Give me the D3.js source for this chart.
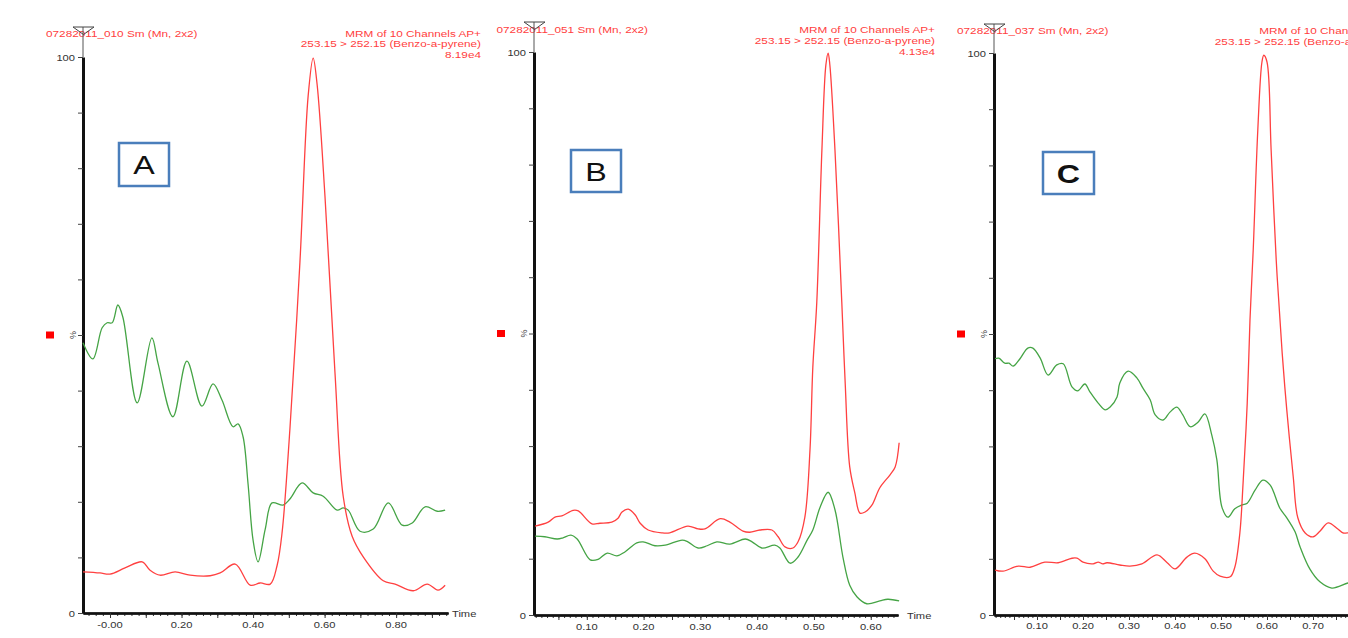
<!DOCTYPE html>
<html>
<head>
<meta charset="utf-8">
<script src="https://cdn.jsdelivr.net/npm/d3@7"></script>
<style>
  body { margin: 0; background: #fff; }
  svg { display: block; }
  text { font-family: "Liberation Sans", Arial, sans-serif; }
</style>
</head>
<body>
<svg id="chart" width="1348" height="638"></svg>
<script>
// ---- data (time in min, intensity in %) ----
const panelLetters = ["A", "B", "C"];
const fileLabels = ["07282011_010 Sm (Mn, 2x2)", "07282011_051 Sm (Mn, 2x2)", "07282011_037 Sm (Mn, 2x2)"];
const channelLabel = "MRM of 10 Channels AP+";
const transitionLabel = "253.15 > 252.15 (Benzo-a-pyrene)";
const maxIntensity = ["8.19e4", "4.13e4", null]; // third one is cut off in the picture

const xTickValsA = [0, 0.2, 0.4, 0.6, 0.8];
const xTickLabelsA = ["-0.00", "0.20", "0.40", "0.60", "0.80"];
const xTickValsB = [0.1, 0.2, 0.3, 0.4, 0.5, 0.6];
const xTickLabelsB = ["0.10", "0.20", "0.30", "0.40", "0.50", "0.60"];
const xTickValsC = [0.1, 0.2, 0.3, 0.4, 0.5, 0.6, 0.7, 0.8];
const xTickLabelsC = ["0.10", "0.20", "0.30", "0.40", "0.50", "0.60", "0.70", "0.80"];
const yTickVals = [0, 10, 20, 30, 40, 50, 60, 70, 80, 90, 100];
const yTickLabels = ["0", "100"];

const redA = [[-0.0755,7.4],[-0.028,7.2],[0.0,7.0],[0.042,8.1],[0.09,9.2],[0.112,7.7],[0.14,6.8],[0.182,7.4],
  [0.224,6.8],[0.28,6.7],[0.308,7.2],[0.35,8.8],[0.392,5.0],[0.42,5.4],[0.448,5.2],[0.467,8.5],[0.481,14.4],
  [0.503,33.1],[0.531,63.1],[0.554,93.0],[0.568,99.8],[0.579,95.1],[0.601,75.0],[0.629,43.2],[0.652,21.0],
  [0.677,13.8],[0.708,10.1],[0.764,5.8],[0.797,5.2],[0.848,4.0],[0.887,5.2],[0.917,4.1],[0.937,5.0]];
const greenA = [[-0.0755,48.6],[-0.048,45.7],[-0.022,51.3],[-0.008,52.2],[0.006,52.2],[0.022,55.4],[0.036,53.2],
  [0.076,37.8],[0.117,49.5],[0.134,45.0],[0.176,35.3],[0.215,45.3],[0.257,37.2],[0.288,41.2],[0.313,38.3],
  [0.344,33.5],[0.358,34.0],[0.372,31.7],[0.386,23.2],[0.4,13.1],[0.414,9.2],[0.434,15.1],[0.453,19.8],
  [0.484,19.4],[0.503,20.5],[0.537,23.4],[0.568,21.6],[0.596,21.0],[0.635,18.5],[0.652,18.9],[0.666,18.5],
  [0.699,14.7],[0.736,15.1],[0.778,19.8],[0.817,15.8],[0.845,16.2],[0.881,19.1],[0.915,18.3],[0.937,18.5]];

const redB = [[0.009,15.8],[0.032,16.5],[0.044,17.4],[0.056,17.6],[0.076,18.6],[0.085,18.5],[0.109,16.2],
  [0.123,16.3],[0.144,16.5],[0.155,17.2],[0.162,18.3],[0.173,18.8],[0.185,17.8],[0.194,16.3],[0.208,15.1],
  [0.232,14.6],[0.246,14.6],[0.278,15.8],[0.296,15.3],[0.308,15.3],[0.335,17.1],[0.352,16.5],[0.375,14.9],
  [0.387,14.7],[0.405,15.1],[0.426,15.1],[0.437,13.9],[0.449,12.1],[0.463,11.9],[0.472,13.0],[0.484,17.4],
  [0.493,29.3],[0.498,44.0],[0.505,55.6],[0.514,82.6],[0.521,97.7],[0.525,99.8],[0.528,97.7],[0.537,82.6],
  [0.549,55.6],[0.555,41.2],[0.563,26.3],[0.572,21.7],[0.581,18.1],[0.59,18.3],[0.602,19.5],[0.616,22.6],
  [0.634,24.9],[0.643,26.3],[0.65,30.6]];
const greenB = [[0.009,14.0],[0.026,13.9],[0.048,13.5],[0.058,13.7],[0.072,14.2],[0.083,13.5],[0.106,9.8],
  [0.12,9.9],[0.136,11.0],[0.153,10.5],[0.167,11.2],[0.188,12.8],[0.199,13.0],[0.22,12.3],[0.238,12.4],
  [0.268,13.3],[0.278,13.0],[0.296,11.9],[0.312,12.3],[0.329,13.0],[0.352,12.6],[0.379,13.5],[0.391,13.0],
  [0.408,11.9],[0.431,12.4],[0.44,11.9],[0.458,9.2],[0.472,10.3],[0.488,13.3],[0.498,15.1],[0.511,19.2],
  [0.525,21.8],[0.537,18.7],[0.551,10.3],[0.563,5.3],[0.576,3.2],[0.593,2.0],[0.616,2.5],[0.63,2.8],[0.65,2.5]];

const redC = [[0.009,8.0],[0.026,7.8],[0.059,8.7],[0.085,8.5],[0.117,9.4],[0.146,9.3],[0.176,10.1],[0.187,10.1],
  [0.2,9.4],[0.222,9.1],[0.233,9.4],[0.243,9.1],[0.252,9.3],[0.28,8.9],[0.302,8.7],[0.328,9.1],[0.361,10.7],
  [0.383,9.3],[0.4,8.2],[0.426,10.3],[0.443,11.0],[0.465,10.0],[0.483,7.8],[0.498,6.9],[0.52,6.8],[0.53,8.5],
  [0.541,14.6],[0.548,23.5],[0.557,37.7],[0.563,52.5],[0.57,64.9],[0.58,86.3],[0.589,98.4],[0.593,99.6],
  [0.6,98.4],[0.609,82.7],[0.62,63.2],[0.633,46.6],[0.643,36.5],[0.657,24.6],[0.667,17.3],[0.683,14.6],
  [0.7,13.9],[0.715,14.9],[0.733,16.4],[0.754,15.3],[0.765,14.6],[0.776,14.6],[0.802,14.2]];
const greenC = [[0.009,45.6],[0.017,45.7],[0.03,44.8],[0.039,44.8],[0.048,44.3],[0.063,45.6],[0.08,47.5],
  [0.091,47.5],[0.107,45.7],[0.124,42.7],[0.143,44.5],[0.157,44.7],[0.176,40.6],[0.189,39.9],[0.204,41.1],
  [0.215,39.7],[0.233,37.7],[0.248,36.5],[0.259,37.0],[0.274,38.8],[0.28,41.3],[0.298,43.4],[0.317,42.2],
  [0.33,40.4],[0.346,38.3],[0.357,35.6],[0.374,34.7],[0.389,36.1],[0.404,37.0],[0.417,35.6],[0.433,33.5],
  [0.45,34.3],[0.465,35.8],[0.48,32.0],[0.491,27.6],[0.502,19.2],[0.515,17.4],[0.53,18.9],[0.546,19.6],
  [0.557,19.9],[0.574,22.2],[0.591,24.0],[0.607,23.1],[0.628,19.0],[0.643,17.3],[0.661,14.8],[0.672,12.1],
  [0.693,8.2],[0.715,5.9],[0.741,4.8],[0.776,5.7],[0.802,6.2]];

// ---- layout of the three panels ----
const panels = [
  { x0: 83, x1: 448, yTop: 57, yBot: 613, domain: [-0.0755, 0.945], minor: 0.02,
    ticks: xTickValsA, tickLabels: xTickLabelsA, red: redA, green: greenA,
    head: { lx: 46, rx: 481, y: 36.5, dy: 10.8 }, tri: 27, time: [452, 617], tickLblY: 627.5,
    box: [119, 143, 50, 43], bold: false },
  { x0: 534, x1: 898, yTop: 52, yBot: 615, domain: [0.007, 0.648], minor: 0.01,
    ticks: xTickValsB, tickLabels: xTickLabelsB, red: redB, green: greenB,
    head: { lx: 496.5, rx: 935, y: 32.5, dy: 11 }, tri: 22, time: [907, 619], tickLblY: 630,
    box: [571, 150, 50, 42], bold: false },
  { x0: 994, x1: 1382, yTop: 53, yBot: 615, domain: [0.0065, 0.85], minor: 0.01,
    ticks: xTickValsC, tickLabels: xTickLabelsC, red: redC, green: greenC,
    head: { lx: 957, rx: 1395, y: 33.5, dy: 11.3 }, tri: 24, time: [1390, 619], tickLblY: 629,
    box: [1043, 152, 51, 42], bold: true }
];

const svg = d3.select("#chart");
const redCol = "#ff4040", greenCol = "#45a445", boxCol = "#4a7ebb";
const stretch = 1.24; // the source image is wider than it is tall

function addText(g, str, x, y, size, anchor, fill, weight) {
  return g.append("text")
    .attr("transform", `translate(${x},${y}) scale(${stretch},1)`)
    .attr("text-anchor", anchor || "start")
    .attr("font-size", size)
    .attr("font-weight", weight || "normal")
    .attr("fill", fill || "#333")
    .text(str);
}

panels.forEach((p, i) => {
  const g = svg.append("g");
  const x = d3.scaleLinear().domain(p.domain).range([p.x0, p.x1]);
  const y = d3.scaleLinear().domain([0, 100]).range([p.yBot, p.yTop]);

  // header texts
  addText(g, fileLabels[i], p.head.lx, p.head.y, 9.5, "start", redCol);
  addText(g, channelLabel + " ", p.head.rx, p.head.y, 9.5, "end", redCol);
  addText(g, transitionLabel, p.head.rx, p.head.y + p.head.dy, 9.5, "end", redCol);
  if (maxIntensity[i]) addText(g, maxIntensity[i], p.head.rx, p.head.y + 2 * p.head.dy, 9.5, "end", redCol);

  // thin axis extension and the little triangle at the top
  g.append("line").attr("x1", p.x0).attr("x2", p.x0).attr("y1", p.tri).attr("y2", p.yTop)
    .attr("stroke", "#555").attr("stroke-width", 1);
  g.append("path")
    .attr("d", `M${p.x0 - 10},${p.tri} L${p.x0 + 11},${p.tri} L${p.x0 + 0.5},${p.tri + 7.5} Z`)
    .attr("fill", "none").attr("stroke", "#444").attr("stroke-width", 1);

  // y axis
  const yAxis = d3.axisLeft(y).tickValues(yTickVals).tickSize(5).tickSizeOuter(0).tickFormat("");
  const ya = g.append("g").attr("transform", `translate(${p.x0},0)`).call(yAxis);
  ya.select(".domain").attr("stroke", "#111").attr("stroke-width", 3);
  ya.selectAll(".tick line").attr("stroke", "#444");
  addText(g, yTickLabels[1], p.x0 - 8, y(100) + 3.5, 9, "end", "#333");
  addText(g, yTickLabels[0], p.x0 - 8, y(0) + 3.5, 9, "end", "#333");
  // "%" and the red channel marker
  g.append("text").attr("transform", `translate(${p.x0 - 7},${y(50)}) rotate(-90)`)
    .attr("text-anchor", "middle").attr("font-size", 9).attr("fill", "#444").text("%");
  g.append("rect").attr("x", p.x0 - 37).attr("y", y(50) - 3.5).attr("width", 8).attr("height", 7)
    .attr("fill", "#f00");

  // x axis: minor, half and labelled ticks
  const [d0, d1] = p.domain;
  const minorVals = d3.range(Math.ceil(d0 / p.minor) * p.minor, d1, p.minor);
  const step = p.ticks[1] - p.ticks[0];
  const halfVals = d3.range(p.ticks[0] - step / 2, d1, step).filter(v => v > d0);
  const bottom = g.append("g").attr("transform", `translate(0,${p.yBot})`);
  bottom.call(d3.axisBottom(x).tickValues(minorVals).tickSize(3).tickSizeOuter(0).tickFormat(""));
  bottom.call(g2 => g2.append("g").call(d3.axisBottom(x).tickValues(halfVals).tickSize(5).tickSizeOuter(0).tickFormat("")));
  bottom.call(g2 => g2.append("g").call(d3.axisBottom(x).tickValues(p.ticks).tickSize(5).tickSizeOuter(0).tickFormat("")));
  bottom.selectAll(".domain").attr("stroke", "#111").attr("stroke-width", 2);
  bottom.selectAll(".tick line").attr("stroke", "#333");
  p.ticks.forEach((v, k) => addText(g, p.tickLabels[k], x(v), p.tickLblY, 9, "middle", "#333"));
  addText(g, "Time", p.time[0], p.time[1], 9, "start", "#333");

  // traces
  const line = d3.line().x(d => x(d[0])).y(d => y(d[1])).curve(d3.curveCatmullRom.alpha(0.5));
  g.append("path").datum(p.green).attr("d", line).attr("fill", "none")
    .attr("stroke", greenCol).attr("stroke-width", 1.3);
  g.append("path").datum(p.red).attr("d", line).attr("fill", "none")
    .attr("stroke", redCol).attr("stroke-width", 1.3);

  // letter box
  const [bx, by, bw, bh] = p.box;
  g.append("rect").attr("x", bx).attr("y", by).attr("width", bw).attr("height", bh)
    .attr("fill", "#fff").attr("stroke", boxCol).attr("stroke-width", 2.5);
  addText(g, panelLetters[i], bx + bw / 2, by + bh / 2 + 9.5, 26, "middle", "#111", p.bold ? "bold" : "normal");
});
</script>
</body>
</html>
